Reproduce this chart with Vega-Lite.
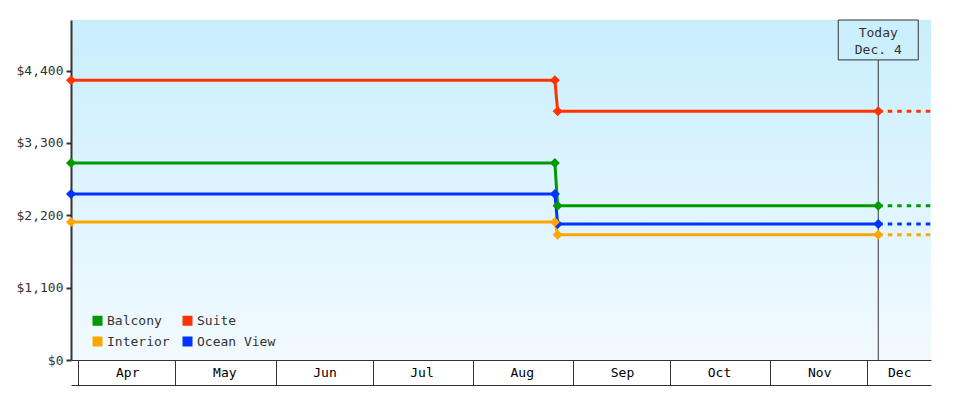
{
  "$schema": "https://vega.github.io/schema/vega-lite/v6.json",
  "width": 860,
  "height": 340,
  "autosize": {"type": "none"},
  "padding": {"left": 71, "top": 20, "right": 49, "bottom": 40},
  "background": "white",
  "view": {
    "stroke": null,
    "fill": {"gradient": "linear", "x1": 0, "y1": 0, "x2": 0, "y2": 1,
      "stops": [{"offset": 0, "color": "#c9eefd"}, {"offset": 1, "color": "#f2faff"}]}
  },
  "config": {
    "font": "DejaVu Sans Mono",
    "axis": {"labelFont": "DejaVu Sans Mono", "labelFontSize": 13, "labelColor": "#333333", "grid": false, "title": null},
    "legend": {"labelFont": "DejaVu Sans Mono", "labelFontSize": 13, "labelColor": "#333333"}
  },
  "datasets": {
    "prices": [
      {"series": "Balcony", "date": "2023-03-29T18:00", "price": 2994, "part": "history"},
      {"series": "Balcony", "date": "2023-08-26T09:30", "price": 2994, "part": "history"},
      {"series": "Balcony", "date": "2023-08-27T06:00", "price": 2346, "part": "history"},
      {"series": "Balcony", "date": "2023-12-04T09:30", "price": 2346, "part": "history"},
      {"series": "Balcony", "date": "2023-12-04T09:30", "price": 2346, "part": "projection"},
      {"series": "Balcony", "date": "2023-12-20T17:00", "price": 2346, "part": "projection"},
      {"series": "Suite", "date": "2023-03-29T18:00", "price": 4255, "part": "history"},
      {"series": "Suite", "date": "2023-08-26T09:30", "price": 4255, "part": "history"},
      {"series": "Suite", "date": "2023-08-27T06:00", "price": 3781, "part": "history"},
      {"series": "Suite", "date": "2023-12-04T09:30", "price": 3781, "part": "history"},
      {"series": "Suite", "date": "2023-12-04T09:30", "price": 3781, "part": "projection"},
      {"series": "Suite", "date": "2023-12-20T17:00", "price": 3781, "part": "projection"},
      {"series": "Ocean View", "date": "2023-03-29T18:00", "price": 2524, "part": "history"},
      {"series": "Ocean View", "date": "2023-08-26T09:30", "price": 2524, "part": "history"},
      {"series": "Ocean View", "date": "2023-08-27T06:00", "price": 2068, "part": "history"},
      {"series": "Ocean View", "date": "2023-12-04T09:30", "price": 2068, "part": "history"},
      {"series": "Ocean View", "date": "2023-12-04T09:30", "price": 2068, "part": "projection"},
      {"series": "Ocean View", "date": "2023-12-20T17:00", "price": 2068, "part": "projection"},
      {"series": "Interior", "date": "2023-03-29T18:00", "price": 2098, "part": "history"},
      {"series": "Interior", "date": "2023-08-26T09:30", "price": 2098, "part": "history"},
      {"series": "Interior", "date": "2023-08-27T06:00", "price": 1906, "part": "history"},
      {"series": "Interior", "date": "2023-12-04T09:30", "price": 1906, "part": "history"},
      {"series": "Interior", "date": "2023-12-04T09:30", "price": 1906, "part": "projection"},
      {"series": "Interior", "date": "2023-12-20T17:00", "price": 1906, "part": "projection"}
    ],
    "today": [
      {"date": "2023-12-04T09:30", "label": ["Today", "Dec. 4"]}
    ]
  },
  "layer": [
    {
      "data": {"name": "today"},
      "mark": {"type": "rule", "color": "#333333", "strokeWidth": 1},
      "encoding": {
        "x": {"field": "date", "type": "temporal",
          "axis": {"orient": "bottom", "offset": 25, "domain": true, "domainColor": "#333333", "domainWidth": 1, "ticks": false, "labels": false, "grid": false, "title": null}}
      }
    },
    {
      "data": {"name": "today"},
      "mark": {"type": "rect", "width": 80, "fill": "#cbeffd", "stroke": "#333333", "strokeWidth": 1},
      "encoding": {
        "x": {"field": "date", "type": "temporal", "axis": null},
        "y": {"datum": 5170},
        "y2": {"datum": 4563}
      }
    },
    {
      "data": {"name": "today"},
      "mark": {"type": "text", "font": "DejaVu Sans Mono", "fontSize": 13, "color": "#333333", "lineHeight": 17, "baseline": "middle", "align": "center", "dy": -7},
      "encoding": {
        "x": {"field": "date", "type": "temporal", "axis": null},
        "y": {"datum": 4866},
        "text": {"field": "label"}
      }
    },
    {
      "data": {"name": "prices"},
      "mark": {"type": "line", "strokeWidth": 3},
      "encoding": {
        "x": {"field": "date", "type": "temporal",
          "scale": {"domain": [{"year": 2023, "month": 3, "date": 29, "hours": 18}, {"year": 2023, "month": 12, "date": 20, "hours": 17}], "nice": false},
          "axis": {
            "orient": "bottom",
            "values": [
              {"year": 2023, "month": 4, "date": 1},
              {"year": 2023, "month": 5, "date": 1},
              {"year": 2023, "month": 6, "date": 1},
              {"year": 2023, "month": 7, "date": 1},
              {"year": 2023, "month": 8, "date": 1},
              {"year": 2023, "month": 9, "date": 1},
              {"year": 2023, "month": 10, "date": 1},
              {"year": 2023, "month": 11, "date": 1},
              {"year": 2023, "month": 12, "date": 1}
            ],
            "format": "%b", "formatType": "time",
            "tickSize": 25, "tickColor": "#333333", "tickWidth": 1,
            "domainColor": "#333333", "domainWidth": 1,
            "labelOffset": {"condition": {"test": "month(datum.value) == 11", "value": 32}, "value": 49},
            "labelPadding": -13, "labelBaseline": "middle", "labelColor": "#000000",
            "labelFlush": false, "labelOverlap": false, "labelBound": false,
            "grid": false, "title": null
          }
        },
        "y": {"field": "price", "type": "quantitative",
          "scale": {"domain": [0, 5170], "nice": false, "zero": true},
          "axis": {"values": [0, 1100, 2200, 3300, 4400], "format": "$,.0f", "tickSize": 5, "tickWidth": 2, "tickColor": "#333333", "domainColor": "#333333", "domainWidth": 2, "labelPadding": 3, "grid": false, "title": null}
        },
        "color": {"field": "series", "type": "nominal",
          "scale": {"domain": ["Balcony", "Interior", "Suite", "Ocean View"], "range": ["#009900", "#ffa500", "#ff3300", "#0033ff"]},
          "legend": {"orient": "none", "legendX": 20, "legendY": 294, "title": null, "columns": 2,
            "symbolType": "square", "symbolSize": 100, "symbolStrokeWidth": 0, "symbolOpacity": 1,
            "labelOffset": 3, "rowPadding": 7, "columnPadding": 11, "padding": 0, "offset": 0,
            "encode": {"symbols": {"update": {"fill": {"scale": "color", "field": "value"}, "strokeWidth": {"value": 0}}}}}},
        "strokeDash": {"field": "part", "type": "nominal",
          "scale": {"domain": ["history", "projection"], "range": [[1, 0], [4.5, 5]]},
          "legend": null}
      }
    },
    {
      "data": {"name": "prices"},
      "transform": [{"filter": "datum.part == 'history'"}],
      "mark": {"type": "point", "shape": "diamond", "filled": true, "size": 100, "opacity": 1},
      "encoding": {
        "x": {"field": "date", "type": "temporal", "axis": null},
        "y": {"field": "price", "type": "quantitative"},
        "color": {"field": "series", "type": "nominal",
          "legend": {"orient": "none", "legendX": 20, "legendY": 294, "title": null, "columns": 2,
            "symbolType": "square", "symbolSize": 100, "symbolStrokeWidth": 0, "symbolOpacity": 1,
            "labelOffset": 3, "rowPadding": 7, "columnPadding": 11, "padding": 0, "offset": 0}}
      }
    }
  ],
  "resolve": {"axis": {"x": "independent"}}
}
